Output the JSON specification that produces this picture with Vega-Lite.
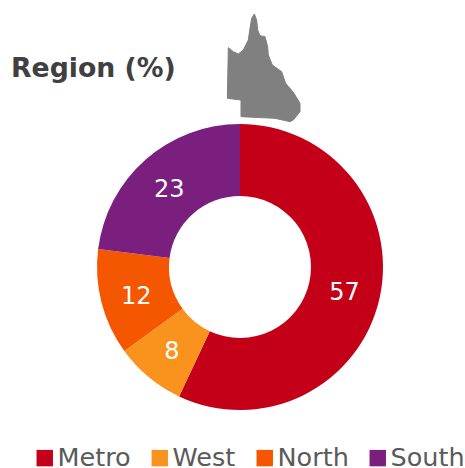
{
"$schema":"https://vega.github.io/schema/vega-lite/v6.json",
"width":465,"height":468,"autosize":{"type":"none"},"padding":0,
"background":"white",
"view":{"stroke":null},
"layer":[
{"data":{"values":[{"label":"Region (%)"}]},
 "mark":{"type":"text","x":11,"y":77,"align":"left","baseline":"alphabetic","font":"DejaVu Sans","fontWeight":"bold","fontSize":26.7,"color":"#404040"},
 "encoding":{"text":{"field":"label"}}},
{"data":{"values":[{"type":"Feature","properties":{},"geometry":{"type":"Polygon","coordinates":[[[118,27],[125,45],[128,75],[135,92],[150,95],[158,125],[160,150],[172,180],[200,200],[212,235],[235,262],[255,295],[255,320],[235,345],[225,350],[180,340],[78,335],[78,285],[37,280],[40,128],[55,140],[70,147],[85,135],[100,105],[105,70],[110,40],[118,27]]]}}]},
 "mark":{"type":"geoshape","fill":"#808080","stroke":"#808080","strokeWidth":1},
 "projection":{"type":"identity","scale":0.3333,"translate":[215,5]}},
{"data":{"values":[
 {"region":"Metro","pct":57,"idx":1},
 {"region":"West","pct":8,"idx":2},
 {"region":"North","pct":12,"idx":3},
 {"region":"South","pct":23,"idx":4}]},
 "encoding":{
  "theta":{"field":"pct","type":"quantitative","stack":true},
  "order":{"field":"idx","type":"ordinal"},
  "x":{"value":240},"y":{"value":267}},
 "layer":[
  {"mark":{"type":"arc","outerRadius":143,"innerRadius":71},
   "encoding":{"color":{"field":"region","type":"nominal",
     "scale":{"domain":["Metro","West","North","South"],"range":["#C40018","#F9931E","#F55600","#7A1F7E"]},
     "legend":{"title":null,"orient":"none","legendX":32,"legendY":445,"direction":"horizontal","columns":4,"symbolType":"square","symbolSize":270,"symbolStrokeWidth":0,"labelFont":"DejaVu Sans","labelFontSize":25.5,"labelColor":"#5A5A5A","labelOffset":0,"columnPadding":16,"labelLimit":200,"symbolOpacity":1}}}},
  {"mark":{"type":"text","radius":107,"dy":3,"font":"DejaVu Sans","fontSize":24,"color":"white","align":"center","baseline":"middle"},
   "encoding":{"text":{"field":"pct","type":"quantitative"}}}
 ]}
]
}
